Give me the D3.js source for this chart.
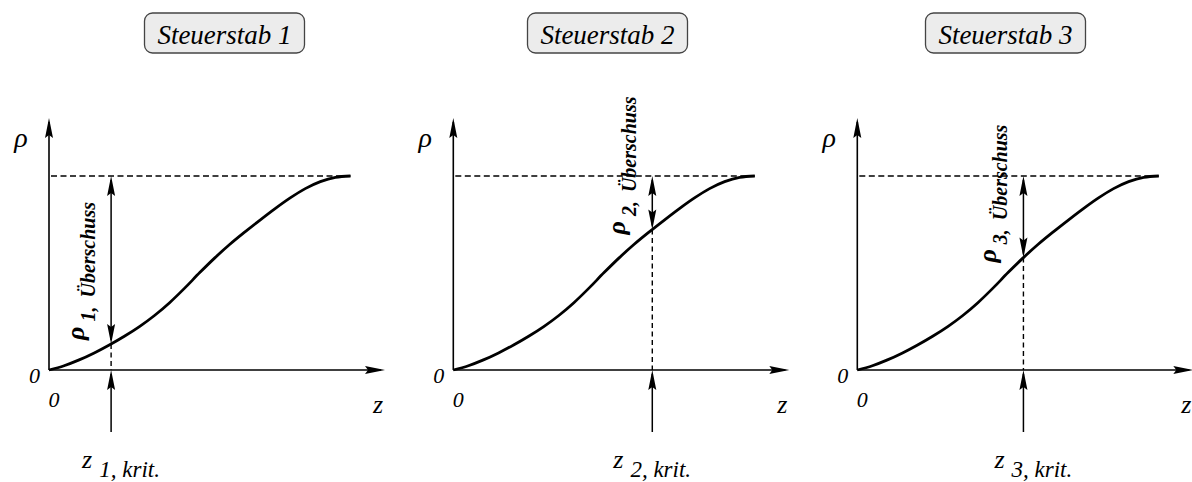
<!DOCTYPE html>
<html>
<head>
<meta charset="utf-8">
<script src="https://cdn.jsdelivr.net/npm/d3@7"></script>
<style>
  body { margin: 0; background: #fff; }
  svg { display: block; }
</style>
</head>
<body>
<svg id="chart" width="1192" height="482"></svg>
<script>
// Integral rod worth curve, normalised: insertion depth z -> reactivity rho
const zValues   = [0, 0.05, 0.10, 0.15, 0.20, 0.25, 0.30, 0.35, 0.40, 0.45, 0.50, 0.55, 0.60, 0.65, 0.70, 0.75, 0.80, 0.85, 0.90, 0.95, 1.00];
const rhoValues = [0, 0.022, 0.052, 0.088, 0.129, 0.174, 0.224, 0.281, 0.347, 0.422, 0.502, 0.578, 0.648, 0.712, 0.773, 0.832, 0.887, 0.935, 0.971, 0.993, 1.00];

// Control rods and their critical positions
const rodTitles = ["Steuerstab 1", "Steuerstab 2", "Steuerstab 3"];
const rodIds    = ["1", "2", "3"];
const zCrit     = [0.206, 0.660, 0.551];

const yName = "ρ";
const xName = "z";
const zeroLabel = "0";
const excessWord = "Überschuss";
const critText = ", krit.";

// Layout
const FONT = "Liberation Serif";
const axisLeft = [49, 453.3, 857.3];
const titleCx = [224.5, 607.5, 1005.5];
const critLabelShift = [-29, -39, -29];
const excessLabelGap = [-4, 5, 5];
const plotWidth = 301.5;
const yBase = 370, yFull = 176;
const yAxisTip = 118;
const xAxisLen = 336;
const critArrowBottom = 432;

const svg = d3.select("#chart");

const y = d3.scaleLinear().domain([0, 1]).range([yBase, yFull]);
const rhoAt = z => {
  const i = Math.max(1, d3.bisectLeft(zValues, z));
  const t = (z - zValues[i - 1]) / (zValues[i] - zValues[i - 1]);
  return rhoValues[i - 1] + t * (rhoValues[i] - rhoValues[i - 1]);
};

const label = (sel) => sel.append("text")
  .attr("font-family", FONT)
  .attr("font-style", "italic")
  .attr("font-weight", "normal")
  .attr("font-size", 27);

// Slim, slightly notched arrowhead with its tip at (tx, ty)
const arrowHead = (sel, tx, ty, angle) => sel.append("path")
  .attr("d", "M0,0 L-20,-4 L-17,0 L-20,4 Z")
  .attr("transform", `translate(${tx},${ty}) rotate(${angle})`)
  .attr("fill", "#000");

rodTitles.forEach((title, k) => {
  const x0 = axisLeft[k];
  const x = d3.scaleLinear().domain([0, 1]).range([x0, x0 + plotWidth]);
  const g = svg.append("g");

  // Title box
  g.append("rect")
    .attr("x", titleCx[k] - 80).attr("y", 13)
    .attr("width", 160).attr("height", 40)
    .attr("rx", 8).attr("ry", 8)
    .attr("fill", "#ececec").attr("stroke", "#444").attr("stroke-width", 1.3);
  label(g)
    .attr("x", titleCx[k]).attr("y", 44)
    .attr("text-anchor", "middle")
    .text(title);

  // Axes
  g.append("line")
    .attr("x1", x0).attr("y1", y(0)).attr("x2", x0).attr("y2", yAxisTip + 4)
    .attr("stroke", "#000").attr("stroke-width", 1.6);
  arrowHead(g, x0, yAxisTip, -90);
  g.append("line")
    .attr("x1", x0).attr("y1", y(0)).attr("x2", x0 + xAxisLen - 4).attr("y2", y(0))
    .attr("stroke", "#000").attr("stroke-width", 1.6);
  arrowHead(g, x0 + xAxisLen, y(0), 0);

  // Full rod worth level
  g.append("line")
    .attr("x1", x0 + 2).attr("y1", y(1)).attr("x2", x(1)).attr("y2", y(1))
    .attr("stroke", "#000").attr("stroke-width", 1.4)
    .attr("stroke-dasharray", "6,3.5");

  // Rod worth curve
  const line = d3.line()
    .x((d, i) => x(zValues[i]))
    .y(d => y(d))
    .curve(d3.curveMonotoneX);
  g.append("path")
    .attr("d", line(rhoValues))
    .attr("fill", "none")
    .attr("stroke", "#000").attr("stroke-width", 2.8);

  // Critical position
  const xc = x(zCrit[k]);
  const yc = y(rhoAt(zCrit[k]));

  g.append("line")
    .attr("x1", xc).attr("y1", yc).attr("x2", xc).attr("y2", y(0))
    .attr("stroke", "#000").attr("stroke-width", 1.4)
    .attr("stroke-dasharray", "5,3.5");

  // Excess reactivity double arrow
  g.append("line")
    .attr("x1", xc).attr("y1", y(1) + 4).attr("x2", xc).attr("y2", yc - 4)
    .attr("stroke", "#000").attr("stroke-width", 1.5);
  arrowHead(g, xc, y(1), -90);
  arrowHead(g, xc, yc, 90);

  // Arrow marking z_crit on the axis
  g.append("line")
    .attr("x1", xc).attr("y1", critArrowBottom).attr("x2", xc).attr("y2", y(0) + 4)
    .attr("stroke", "#000").attr("stroke-width", 1.5);
  arrowHead(g, xc, y(0), -90);

  // Axis labels
  label(g)
    .attr("x", x0 - 28).attr("y", 147)
    .attr("text-anchor", "middle").attr("font-size", 28)
    .text(yName);
  label(g)
    .attr("x", x0 - 9).attr("y", 383)
    .attr("text-anchor", "end").attr("font-size", 22)
    .text(zeroLabel);
  label(g)
    .attr("x", x0 + 5).attr("y", 407)
    .attr("text-anchor", "middle").attr("font-size", 22)
    .text(zeroLabel);
  label(g)
    .attr("x", x0 + 329).attr("y", 413)
    .attr("text-anchor", "middle").attr("font-size", 26)
    .text(xName);

  // Excess reactivity label (rotated)
  const ex = label(g)
    .attr("transform", `translate(${xc - 27},${yc + excessLabelGap[k]}) rotate(-90)`)
    .attr("font-weight", "bold")
    .attr("font-size", 20);
  ex.append("tspan").attr("font-size", 26).text(yName);
  ex.append("tspan").attr("dy", 11).attr("dx", 5).attr("font-size", 20)
    .text(rodIds[k] + ",");
  ex.append("tspan").attr("dx", 9).attr("font-size", 20)
    .text(excessWord);

  // z_crit label
  const zl = label(g)
    .attr("x", xc + critLabelShift[k]).attr("y", 468)
    .attr("font-size", 23);
  zl.append("tspan").attr("font-size", 26).text(xName);
  zl.append("tspan").attr("dy", 9).attr("dx", 7).attr("font-size", 23)
    .text(rodIds[k] + critText);
});
</script>
</body>
</html>
